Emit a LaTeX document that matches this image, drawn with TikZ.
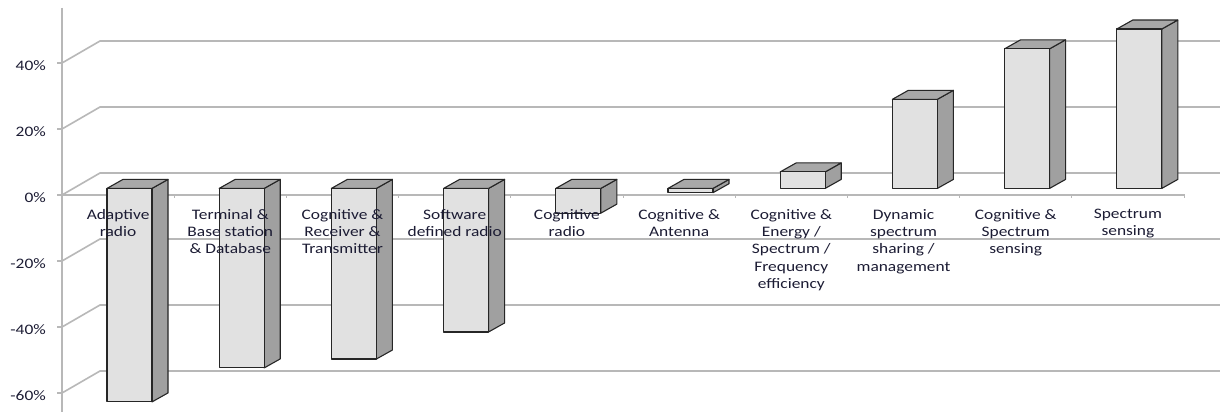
\documentclass[tikz,border=0pt]{standalone}
\usepackage{fontspec}
\newfontfamily\lab[FakeStretch=1.2]{Carlito}
\definecolor{gridc}{HTML}{B8B8B8}
\definecolor{frontc}{HTML}{E1E1E1}
\definecolor{sidec}{HTML}{A0A0A0}
\definecolor{topc}{HTML}{A8A8A8}
\definecolor{edgec}{HTML}{262626}
\definecolor{labc}{HTML}{1C1C34}
\begin{document}
\begin{tikzpicture}[x=1pt,y=-1pt,
  grid/.style={draw=gridc,line width=1.6pt},
  barface/.style={draw=edgec,line width=1.1pt,line join=round},
  lbl/.style={anchor=north,align=center,inner sep=0pt,text=labc,
    font=\lab\fontsize{14.5}{17.3}\selectfont},
  ylab/.style={anchor=east,inner sep=0pt,text=labc,
    font=\lab\fontsize{14.5}{17.3}\selectfont}]
\useasboundingbox[fill=white] (0,0) rectangle (1220,412);
% back wall gridlines with slanted side-wall parts
\foreach \k in {0,...,5}{
  \pgfmathsetmacro\yf{63+66*\k}
  \draw[grid] (57,\yf) -- (62,\yf) -- (100,\yf-22) -- (1220,\yf-22);
}
% vertical axis
\draw[grid,line width=1.8pt] (62,8) -- (62,412);
% front floor line with category ticks
\draw[grid] (62,195) -- (1185,195);
\foreach \i in {1,...,10}{
  \draw[grid,line width=1pt] (62+112.2*\i,195) -- ++(0,3);
}
% bars
\foreach \i/\v in {1/-64.7,2/-54.4,3/-51.7,4/-43.5,5/-7.5,6/-1.3,7/5,8/27,9/42.3,10/48.3}{
  \pgfmathsetmacro\xl{107+112.2*(\i-1)}
  \pgfmathsetmacro\yt{min(188.4,188.4-3.3*\v)}
  \pgfmathsetmacro\yb{max(188.4,188.4-3.3*\v)}
  \draw[barface,fill=sidec] (\xl+45,\yt) -- (\xl+61,\yt-9) -- (\xl+61,\yb-9) -- (\xl+45,\yb) -- cycle;
  \draw[barface,fill=topc] (\xl,\yt) -- (\xl+16,\yt-9) -- (\xl+61,\yt-9) -- (\xl+45,\yt) -- cycle;
  \draw[barface,fill=frontc] (\xl,\yt) rectangle (\xl+45,\yb);
}
% y-axis labels
\node[ylab] (y40) at (46,66) {40\%};
\node[ylab] (y20) at (46,132) {20\%};
\node[ylab] (y0) at (46,198) {0\%};
\node[ylab] (ym20) at (46,264) {-20\%};
\node[ylab] (ym40) at (46,330) {-40\%};
\node[ylab] (ym60) at (46,396) {-60\%};
% category labels
\node[lbl] (c1) at (118.1,209) {Adaptive\\radio};
\node[lbl] (c2) at (230.3,209) {Terminal \&\\Base station\\\& Database};
\node[lbl] (c3) at (342.5,209) {Cognitive \&\\Receiver \&\\Transmitter};
\node[lbl] (c4) at (454.7,209) {Software\\defined radio};
\node[lbl] (c5) at (566.9,209) {Cognitive\\radio};
\node[lbl] (c6) at (679.1,209) {Cognitive \&\\Antenna};
\node[lbl] (c7) at (791.3,209) {Cognitive \&\\Energy /\\Spectrum /\\Frequency\\efficiency};
\node[lbl] (c8) at (903.5,209) {Dynamic\\spectrum\\sharing /\\management};
\node[lbl] (c9) at (1015.7,209) {Cognitive \&\\Spectrum\\sensing};
\node[lbl] (c10) at (1127.9,209) {Spectrum\\sensing};
\end{tikzpicture}
\end{document}
